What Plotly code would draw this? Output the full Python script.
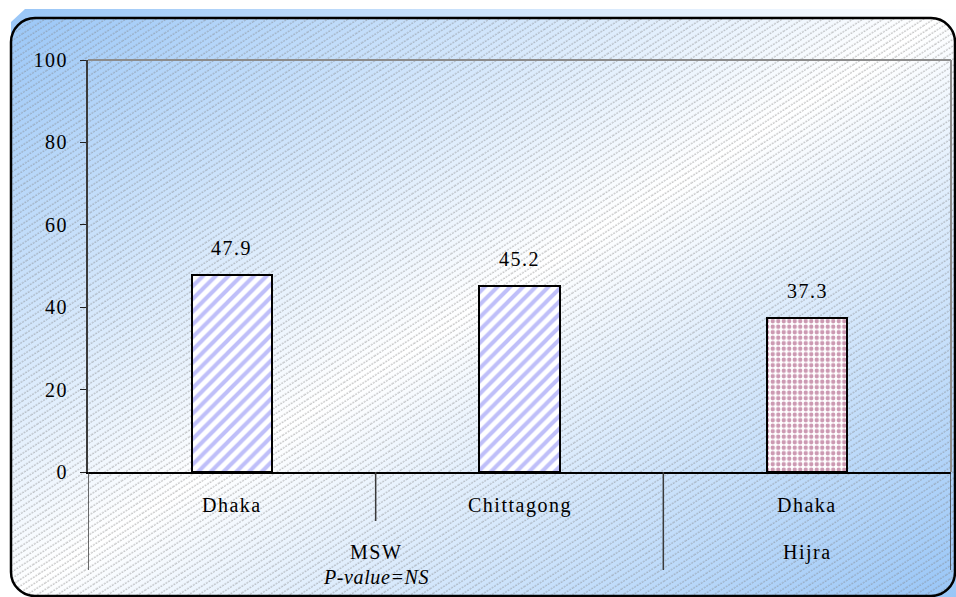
import base64
import plotly.graph_objects as go

# ---- data ----
groups = ["MSW", "MSW", "Hijra"]
sites = ["Dhaka", "Chittagong", "Dhaka"]
values = [47.9, 45.2, 37.3]
y_ticks = [0, 20, 40, 60, 80, 100]
group_labels = ["MSW", "Hijra"]
group_centers = [0.5, 2.0]
note = "P-value=NS"

FONT = "Liberation Serif"
W, H = 956, 597
L, R, T, B = 88, 5, 60, 125
PW, PH = W - L - R, H - T - B


def sp(s, ls=1.5):
    return f'<span style="letter-spacing:{ls}px">{s}</span>'


# ---- background (gradient + hatch + rounded frame) as SVG image ----
svg = f'''<svg xmlns="http://www.w3.org/2000/svg" width="{W}" height="{H}" viewBox="0 0 {W} {H}">
<defs>
<linearGradient id="g" x1="0" y1="0" x2="1" y2="1">
<stop offset="0" stop-color="#99c6f7"/>
<stop offset="0.5" stop-color="#ffffff"/>
<stop offset="1" stop-color="#99c6f7"/>
</linearGradient>
<pattern id="h" width="40" height="5.5" patternUnits="userSpaceOnUse" patternTransform="rotate(-33)">
<line x1="0" y1="2" x2="40" y2="2" stroke="#808080" stroke-width="0.8" stroke-dasharray="2,1"/>
</pattern>
<clipPath id="c"><rect x="11" y="18" width="944" height="578" rx="24"/></clipPath>
</defs>
<path d="M25,9 L{W},9 L{W},{H} L11,{H} L11,22 Z" fill="url(#g)"/>
<rect x="0" y="0" width="{W}" height="{H}" fill="url(#h)" opacity="0.75" clip-path="url(#c)"/>
<rect x="11" y="18" width="944" height="578" rx="24" fill="none" stroke="#000" stroke-width="2.5"/>
</svg>'''
src = "data:image/svg+xml;base64," + base64.b64encode(svg.encode()).decode()

xs = list(range(len(values)))
patterns = [
    dict(shape="/", fgcolor="#8080f4", bgcolor="white", size=9, solidity=0.45),
    dict(shape="/", fgcolor="#8080f4", bgcolor="white", size=9, solidity=0.45),
    dict(shape=".", fgcolor="#993366", bgcolor="white", size=5.5, solidity=0.5),
]

fig = go.Figure()
for i, v in enumerate(values):
    fig.add_trace(go.Bar(
        x=[xs[i]], y=[v], width=0.28,
        marker=dict(color="white", pattern=patterns[i],
                    line=dict(color="black", width=2)),
        showlegend=False, hoverinfo="skip",
    ))

tf = dict(family=FONT, size=20, color="black")
ann = []
# value labels
for i, v in enumerate(values):
    ann.append(dict(x=xs[i], y=v, xref="x", yref="y", text=sp(f"{v:.1f}"),
                    showarrow=False, yanchor="middle", yshift=27, font=tf))
# site labels
for i, s in enumerate(sites):
    ann.append(dict(x=xs[i], y=0, xref="x", yref="paper", text=sp(s),
                    showarrow=False, yanchor="middle", yshift=-33, font=tf))
# group labels
for g, c in zip(group_labels, group_centers):
    ann.append(dict(x=c, y=0, xref="x", yref="paper", text=sp(g),
                    showarrow=False, yanchor="middle", yshift=-80, font=tf))
ann.append(dict(x=group_centers[0], y=0, xref="x", yref="paper",
                text=f"<i>{sp(note, 0.6)}</i>", showarrow=False, yanchor="middle",
                yshift=-105, font=tf))

shapes = []
# plot frame top and right (gray)
shapes.append(dict(type="line", xref="paper", yref="paper", x0=0, x1=1, y0=1, y1=1,
                   line=dict(color="#8c8c8c", width=2)))
shapes.append(dict(type="line", xref="paper", yref="paper", x0=1, x1=1, y0=0, y1=1,
                   line=dict(color="#8c8c8c", width=2)))
# category dividers below the axis
long_d = -98 / PH
short_d = -49 / PH
for xv, d in [(-0.5, long_d), (0.5, short_d), (1.5, long_d), (2.5, long_d)]:
    shapes.append(dict(type="line", xref="x", yref="paper", x0=xv, x1=xv, y0=0, y1=d,
                       line=dict(color="#3a3a3a", width=1.5)))

fig.update_layout(
    width=W, height=H,
    margin=dict(l=L, r=R, t=T, b=B),
    paper_bgcolor="white",
    plot_bgcolor="rgba(0,0,0,0)",
    bargap=0,
    images=[dict(source=src, xref="paper", yref="paper",
                 x=-L / PW, y=1 + T / PH, sizex=W / PW, sizey=H / PH,
                 xanchor="left", yanchor="top", sizing="stretch", layer="below")],
    annotations=ann,
    shapes=shapes,
    xaxis=dict(range=[-0.5, 2.5], showticklabels=False, ticks="", showgrid=False,
               zeroline=False, showline=True, linecolor="black", linewidth=1.5,
               fixedrange=True),
    yaxis=dict(range=[0, 100], tickvals=y_ticks, ticktext=[sp(t) for t in y_ticks],
               ticks="outside", ticklen=6,
               tickcolor="#222", tickwidth=1.2, showgrid=False, zeroline=False,
               showline=True, linecolor="#3a3a3a", linewidth=2,
               ticklabelstandoff=8,
               tickfont=tf, fixedrange=True),
    font=dict(family=FONT),
)

fig.write_html("out.html", config={"displayModeBar": False},
               post_script="document.body.style.margin='0';document.body.style.overflow='hidden';")
